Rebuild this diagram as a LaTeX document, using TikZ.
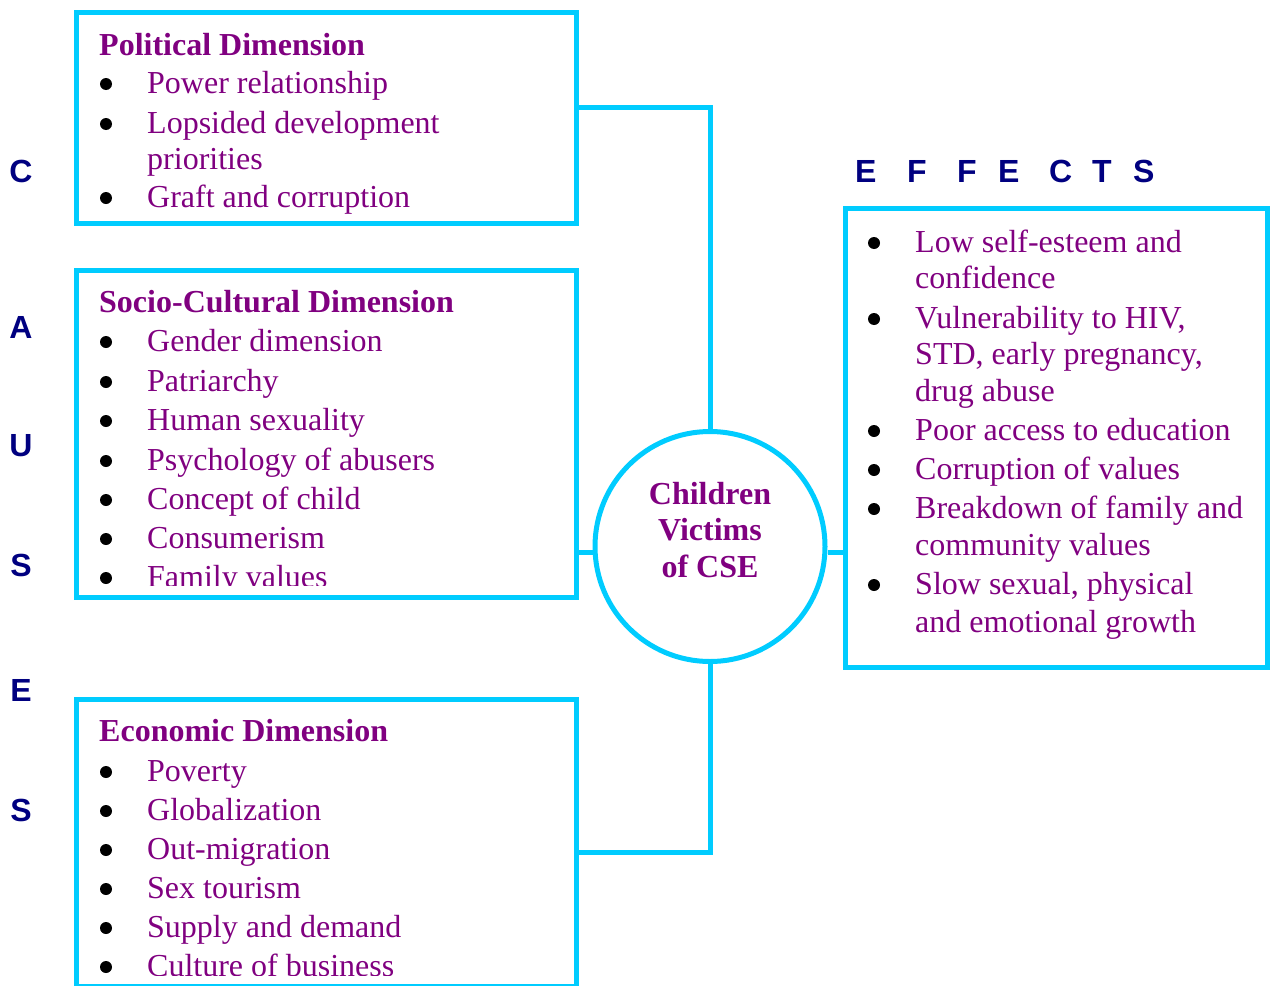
\documentclass[tikz,border=0pt]{standalone}
\usepackage{fontspec}
\setmainfont{Liberation Serif}
\newfontfamily\sansf{Liberation Sans}
\definecolor{cyanb}{HTML}{00CCFF}
\definecolor{purp}{HTML}{800080}
\definecolor{navyc}{HTML}{000080}
\tikzset{
  itm/.style={anchor=base west, inner sep=0pt, text=purp, font=\fontsize{32}{38}\selectfont},
  hd/.style={itm, font=\fontsize{32}{38}\selectfont\bfseries},
  bdot/.style={circle, fill=black, inner sep=0pt, minimum size=12pt},
  ctext/.style={anchor=base, inner sep=0pt, text=purp, font=\fontsize{32}{38}\selectfont\bfseries},
  letter/.style={anchor=base, inner sep=0pt, text=navyc, font=\sansf\bfseries\fontsize{32}{38}\selectfont},
  cbox/.style={draw=cyanb, line width=5pt, inner sep=0pt},
  conn/.style={draw=cyanb, line width=5pt},
}
\begin{document}
\begin{tikzpicture}[x=1pt,y=-1pt]
\useasboundingbox (0,0) rectangle (1271,985);
% side letters
\node[letter] (lc) at (21,182) {C};
\node[letter] (la) at (21,338) {A};
\node[letter] (lu) at (21,456) {U};
\node[letter] (ls1) at (21,576) {S};
\node[letter] (le) at (21,701) {E};
\node[letter] (ls2) at (21,821) {S};
% EFFECTS
\node[letter, anchor=base west] (e1) at (855,182) {E};
\node[letter, anchor=base west] (e2) at (907,182) {F};
\node[letter, anchor=base west] (e3) at (957,182) {F};
\node[letter, anchor=base west] (e4) at (998,182) {E};
\node[letter, anchor=base west] (e5) at (1049,182) {C};
\node[letter, anchor=base west] (e6) at (1092,182) {T};
\node[letter, anchor=base west] (e7) at (1133,182) {S};
% Political text
\node[hd] (ph) at (99,55) {Political Dimension};
\node[bdot] (pb1) at (106,84) {};
\node[itm] (p1) at (147,93) {Power relationship};
\node[bdot] (pb2) at (106,124) {};
\node[itm] (p2) at (147,133) {Lopsided development};
\node[itm] (p2b) at (147,169) {priorities};
\node[bdot] (pb3) at (106,198) {};
\node[itm] (p3) at (147,207) {Graft and corruption};
% Socio text (clipped)
\begin{scope}
\clip (76,270) rectangle (576,585);
\node[hd] (sh) at (99,312) {Socio-Cultural Dimension};
\foreach \y/\t [count=\i] in {351/Gender dimension, 391/Patriarchy, 430/Human sexuality, 470/Psychology of abusers, 509/Concept of child, 548/Consumerism, 587/Family values}{
  \node[bdot] (sb\i) at (106,\y-9) {};
  \node[itm] (s\i) at (147,\y) {\t};
}
\end{scope}
% Economic text (clipped)
\begin{scope}
\clip (76,699) rectangle (576,975);
\node[hd] (eh) at (99,741) {Economic Dimension};
\foreach \y/\t [count=\i] in {781/Poverty, 820/Globalization, 859/Out-migration, 898/Sex tourism, 937/Supply and demand, 976/Culture of business}{
  \node[bdot] (eb\i) at (106,\y-9) {};
  \node[itm] (ec\i) at (147,\y) {\t};
}
\end{scope}
% Effects text
\node[bdot] (fb1) at (874,243) {};
\node[itm] (f1) at (915,252) {Low self-esteem and};
\node[itm] (f1b) at (915,288) {confidence};
\node[bdot] (fb2) at (874,319) {};
\node[itm] (f2) at (915,328) {Vulnerability to HIV,};
\node[itm] (f2b) at (915,364) {STD, early pregnancy,};
\node[itm] (f2c) at (915,401) {drug abuse};
\node[bdot] (fb3) at (874,431) {};
\node[itm] (f3) at (915,440) {Poor access to education};
\node[bdot] (fb4) at (874,470) {};
\node[itm] (f4) at (915,479) {Corruption of values};
\node[bdot] (fb5) at (874,509) {};
\node[itm] (f5) at (915,518) {Breakdown of family and};
\node[itm] (f5b) at (915,555) {community values};
\node[bdot] (fb6) at (874,585) {};
\node[itm] (f6) at (915,594) {Slow sexual, physical};
\node[itm] (f6b) at (915,632) {and emotional growth};
% boxes
\node[cbox, minimum width=500pt, minimum height=211pt] (pol) at (326,117.5) {};
\node[cbox, minimum width=500pt, minimum height=327pt] (soc) at (326,433.5) {};
\node[cbox, minimum width=500pt, minimum height=287pt] (eco) at (326,842.5) {};
\node[cbox, minimum width=422pt, minimum height=459pt] (eff) at (1056,437.5) {};
\node[cbox, circle, minimum size=230pt] (cse) at (710,546.5) {};
% circle text
\node[ctext] (c1) at (710,504) {Children};
\node[ctext] (c2) at (710,540) {Victims};
\node[ctext] (c3) at (710,577) {of CSE};
% connectors
\draw[conn] ([yshift=10.5pt]pol.east) -| (cse.north);
\draw[conn] ([yshift=-6pt]cse.west) -- ([yshift=-6pt]cse.west -| soc.east);
\draw[conn] (cse.south) |- ([yshift=-9.5pt]eco.east);
\draw[conn] ([yshift=-6pt]cse.east) -- ([yshift=-6pt]cse.east -| eff.west);
\end{tikzpicture}
\end{document}
